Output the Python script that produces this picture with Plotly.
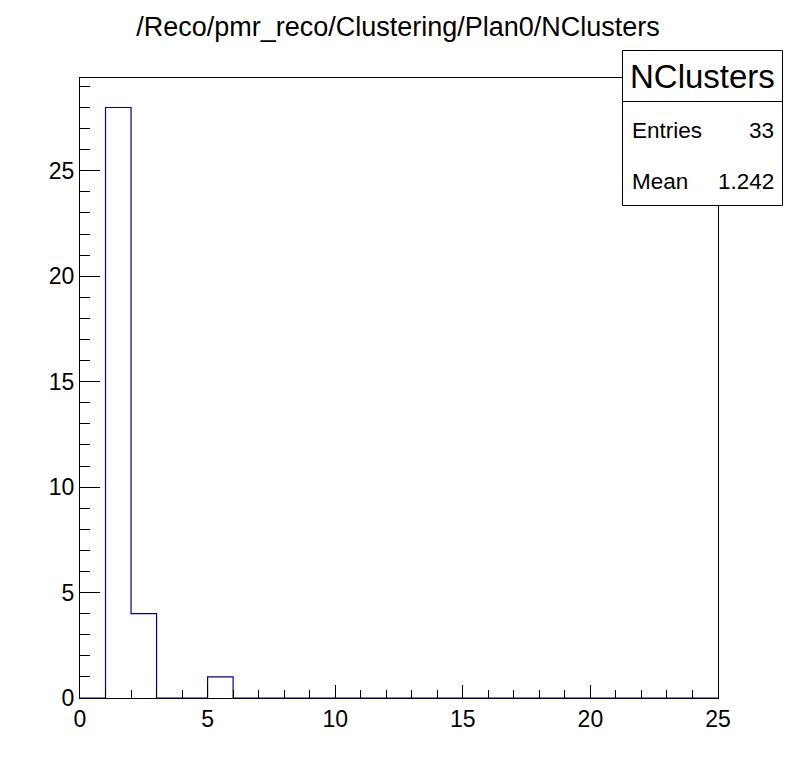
import plotly.graph_objects as go

# Data
bin_edges = list(range(0, 26))
counts = [0, 28, 4, 0, 0, 1] + [0] * 19
title_text = "/Reco/pmr_reco/Clustering/Plan0/NClusters"
stat_name = "NClusters"
stat_labels = ["Entries", "Mean"]
stat_values = ["33", "1.242"]

FONT = "Liberation Sans, Arial, Helvetica, sans-serif"
LINE = "#000099"
OFF = 8  # browser body margin

fig = go.Figure()
fig.add_trace(go.Scatter(
    x=bin_edges,
    y=counts + [counts[-1]],
    mode="lines",
    line=dict(shape="hv", color=LINE, width=1.2),
    hoverinfo="skip",
    showlegend=False,
))

axis_common = dict(
    showgrid=False, zeroline=False, showline=True, linecolor="black", linewidth=1,
    mirror=True, ticks="inside", tickcolor="black", tickwidth=1,
    tickfont=dict(family=FONT, size=23, color="black"),
    layer="above traces",
)
fig.update_xaxes(range=[0, 25], dtick=5, tick0=0, ticklen=13,
                 minor=dict(dtick=1, ticks="inside", ticklen=8, tickcolor="black"),
                 **axis_common)
fig.update_yaxes(range=[0, 29.4], dtick=5, tick0=0, ticklen=20,
                 minor=dict(dtick=1, ticks="inside", ticklen=10, tickcolor="black"),
                 **axis_common)

# stat box (screen pixel positions converted to paper coords)
def px(x):
    return (x - 80) / 638

def py(y):
    return (698 - y) / 620

x0, x1 = px(622.5), px(782.5)
ytop, ybot = py(50.5), py(205.5)
ydiv = py(101.5)
fig.add_shape(type="rect", xref="paper", yref="paper", x0=x0, x1=x1, y0=ybot, y1=ytop,
              line=dict(color="black", width=1), fillcolor="white", layer="above")
fig.add_shape(type="line", xref="paper", yref="paper", x0=x0, x1=x1, y0=ydiv, y1=ydiv,
              line=dict(color="black", width=1), layer="above")
fig.add_annotation(xref="paper", yref="paper", x=(x0 + x1) / 2, y=(ytop + ydiv) / 2,
                   text=stat_name, showarrow=False, xanchor="center", yanchor="middle",
                   font=dict(family=FONT, size=33, color="black"))
rows_y = [py(130), py(181)]
for lab, val, yy in zip(stat_labels, stat_values, rows_y):
    fig.add_annotation(xref="paper", yref="paper", x=px(630), y=yy, text=lab,
                       showarrow=False, xanchor="left", yanchor="middle",
                       font=dict(family=FONT, size=22.5, color="black"))
    fig.add_annotation(xref="paper", yref="paper", x=px(776), y=yy, text=val,
                       showarrow=False, xanchor="right", yanchor="middle",
                       font=dict(family=FONT, size=22.5, color="black"))

fig.update_layout(
    width=798, height=776,
    margin=dict(l=80 - OFF, r=80 + OFF, t=78 - OFF, b=78 + OFF),
    paper_bgcolor="white", plot_bgcolor="white",
    title=dict(text=title_text, x=(398 - OFF) / 798, xanchor="center",
               y=1 - (27 - OFF) / 776, yanchor="middle",
               font=dict(family=FONT, size=27, color="black")),
)
fig.write_html("out.html")
